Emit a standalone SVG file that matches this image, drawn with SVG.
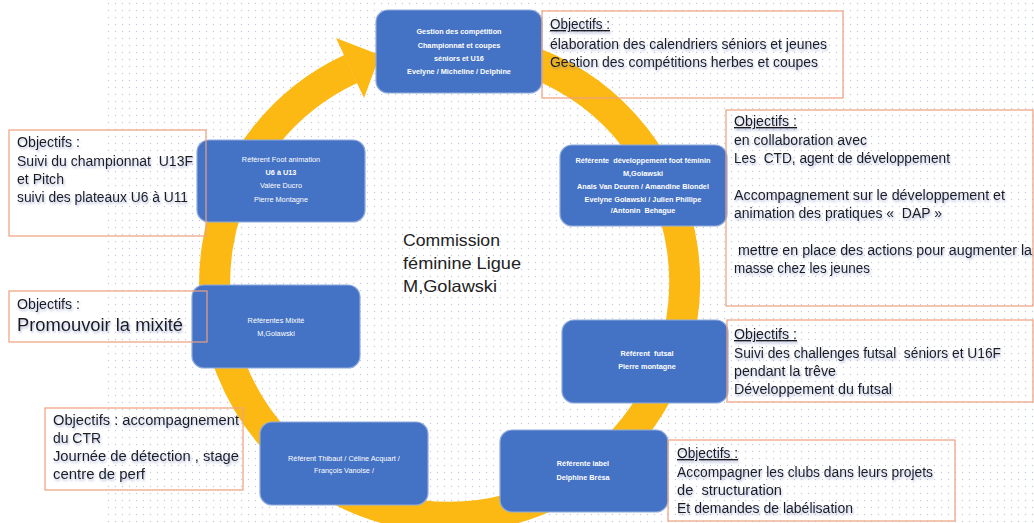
<svg xmlns="http://www.w3.org/2000/svg" width="1034" height="523" viewBox="0 0 1034 523">
<style>
.bx{fill:#4472C4;stroke:#8FAADC;stroke-width:1.2}
.bt{font-family:"Liberation Sans",Arial,sans-serif;font-size:7.3px;fill:#ffffff;text-anchor:middle}
.bb{font-weight:bold}
.ob{fill:none;stroke:#EDA17F;stroke-width:1.2}
.ot{font-family:"Liberation Sans",Arial,sans-serif;font-size:14px;fill:#1a1a1a;white-space:pre;filter:url(#sh)}
.u{text-decoration:underline}
.ct{font-family:"Liberation Sans",Arial,sans-serif;font-size:16.5px;fill:#222222}
.ring{fill:none;stroke:#FDB913;stroke-width:31}
</style>
<defs>
<pattern id="dots" width="7" height="7" patternUnits="userSpaceOnUse">
<circle cx="3.5" cy="3.5" r="0.7" fill="#c3cad6"/>
</pattern>
<filter id="sh" x="-5%" y="-30%" width="110%" height="170%">
<feDropShadow dx="1" dy="2" stdDeviation="1.3" flood-color="#5a6fb0" flood-opacity="0.45"/>
</filter>
</defs>
<rect width="1034" height="523" fill="#ffffff"/>
<rect x="105" y="0" width="929" height="523" fill="url(#dots)"/>

<g id="connectors">
<path class="ring" d="M 429.5 48 A 235 235 0 1 1 350.7 69"/>
<polygon points="336,38 364,98 380,55" fill="#FDB913"/>
</g>

<g id="n-center">
<text class="ct" x="403" y="246" textLength="97" lengthAdjust="spacingAndGlyphs">Commission</text>
<text class="ct" x="403" y="269" textLength="118" lengthAdjust="spacingAndGlyphs">féminine Ligue</text>
<text class="ct" x="403" y="292" textLength="94" lengthAdjust="spacingAndGlyphs">M,Golawski</text>
</g>

<g id="n-competition">
<rect class="bx" x="376" y="10" width="166" height="83" rx="12"/>
<text class="bt bb" x="459" y="34">Gestion des compétition</text>
<text class="bt bb" x="459" y="48">Championnat et coupes</text>
<text class="bt bb" x="459" y="61">séniors et U16</text>
<text class="bt bb" x="459" y="74">Evelyne / Micheline / Delphine</text>
</g>

<g id="n-animation">
<rect class="bx" x="197" y="140" width="168" height="82" rx="12"/>
<text class="bt" x="281" y="162">Référent Foot animation</text>
<text class="bt bb" x="281" y="175">U6 à U13</text>
<text class="bt" x="281" y="188">Valère Ducro</text>
<text class="bt" x="281" y="202">Pierre Montagne</text>
</g>

<g id="n-developpement">
<rect class="bx" x="560" y="145" width="167" height="81" rx="12"/>
<text class="bt bb" x="643" y="163" style="white-space:pre">Référente  développement foot féminin</text>
<text class="bt bb" x="643" y="176">M,Golawski</text>
<text class="bt bb" x="643" y="189">Anais Van Deuren / Amandine Blondel</text>
<text class="bt bb" x="643" y="202">Evelyne Golawski / Julien Phillipe</text>
<text class="bt bb" x="643" y="213" style="white-space:pre">/Antonin  Behague</text>
</g>

<g id="n-mixite">
<rect class="bx" x="192" y="285" width="168" height="83" rx="12"/>
<text class="bt" x="276" y="323">Référentes Mixité</text>
<text class="bt" x="276" y="336">M,Golawski</text>
</g>

<g id="n-futsal">
<rect class="bx" x="562" y="320" width="166" height="83" rx="12"/>
<text class="bt bb" x="647" y="356" style="white-space:pre">Référent  futsal</text>
<text class="bt bb" x="647" y="369">Pierre montagne</text>
</g>

<g id="n-thibaut">
<rect class="bx" x="260" y="422" width="168" height="83" rx="12"/>
<text class="bt" x="344" y="461">Référent Thibaut / Céline Acquart /</text>
<text class="bt" x="344" y="473">François Vanoise /</text>
</g>

<g id="n-label">
<rect class="bx" x="500" y="430" width="168" height="82" rx="12"/>
<text class="bt bb" x="583" y="466">Référente label</text>
<text class="bt bb" x="583" y="480">Delphine Brésa</text>
</g>

<g id="o-competition">
<rect class="ob" x="542" y="11" width="301" height="87"/>
<text class="ot u" x="550" y="29" textLength="60" lengthAdjust="spacingAndGlyphs">Objectifs :</text>
<text class="ot" x="550" y="49" textLength="277" lengthAdjust="spacingAndGlyphs">élaboration des calendriers séniors et jeunes</text>
<text class="ot" x="550" y="67" textLength="268" lengthAdjust="spacingAndGlyphs">Gestion des compétitions herbes et coupes</text>
</g>

<g id="o-developpement">
<rect class="ob" x="726" y="110" width="307" height="196"/>
<text class="ot u" x="734" y="126" textLength="63" lengthAdjust="spacingAndGlyphs">Objectifs :</text>
<text class="ot" x="734" y="145" textLength="133" lengthAdjust="spacingAndGlyphs">en collaboration avec</text>
<text class="ot" x="734" y="163" textLength="216" lengthAdjust="spacingAndGlyphs">Les  CTD, agent de développement</text>
<text class="ot" x="734" y="200" textLength="271" lengthAdjust="spacingAndGlyphs">Accompagnement sur le développement et</text>
<text class="ot" x="734" y="218" textLength="208" lengthAdjust="spacingAndGlyphs">animation des pratiques «  DAP »</text>
<text class="ot" x="734" y="255" textLength="298" lengthAdjust="spacingAndGlyphs"> mettre en place des actions pour augmenter la</text>
<text class="ot" x="734" y="273" textLength="136" lengthAdjust="spacingAndGlyphs">masse chez les jeunes</text>
</g>

<g id="o-animation">
<rect class="ob" x="9" y="130" width="197" height="106"/>
<text class="ot" x="17" y="147" textLength="63" lengthAdjust="spacingAndGlyphs">Objectifs :</text>
<text class="ot" x="17" y="166" textLength="176" lengthAdjust="spacingAndGlyphs">Suivi du championnat  U13F</text>
<text class="ot" x="17" y="184" textLength="47" lengthAdjust="spacingAndGlyphs">et Pitch</text>
<text class="ot" x="17" y="202" textLength="171" lengthAdjust="spacingAndGlyphs">suivi des plateaux U6 à U11</text>
</g>

<g id="o-mixite">
<rect class="ob" x="9" y="291" width="198" height="51"/>
<text class="ot" x="17" y="309" textLength="63" lengthAdjust="spacingAndGlyphs">Objectifs :</text>
<text class="ot" x="17" y="331" style="font-size:18px" textLength="166" lengthAdjust="spacingAndGlyphs">Promouvoir la mixité</text>
</g>

<g id="o-thibaut">
<rect class="ob" x="45" y="408" width="198" height="82"/>
<text class="ot" x="53" y="425" textLength="186" lengthAdjust="spacingAndGlyphs">Objectifs : accompagnement</text>
<text class="ot" x="53" y="443" textLength="48" lengthAdjust="spacingAndGlyphs">du CTR</text>
<text class="ot" x="53" y="461" textLength="186" lengthAdjust="spacingAndGlyphs">Journée de détection , stage</text>
<text class="ot" x="53" y="479" textLength="92" lengthAdjust="spacingAndGlyphs">centre de perf</text>
</g>

<g id="o-futsal">
<rect class="ob" x="727" y="320" width="306" height="82"/>
<text class="ot u" x="734" y="339" textLength="63" lengthAdjust="spacingAndGlyphs">Objectifs :</text>
<text class="ot" x="734" y="358" textLength="267" lengthAdjust="spacingAndGlyphs">Suivi des challenges futsal  séniors et U16F</text>
<text class="ot" x="734" y="376" textLength="102" lengthAdjust="spacingAndGlyphs">pendant la trêve</text>
<text class="ot" x="734" y="394" textLength="158" lengthAdjust="spacingAndGlyphs">Développement du futsal</text>
</g>

<g id="o-label">
<rect class="ob" x="668" y="440" width="287" height="81"/>
<text class="ot u" x="677" y="458" textLength="61" lengthAdjust="spacingAndGlyphs">Objectifs :</text>
<text class="ot" x="677" y="477" textLength="256" lengthAdjust="spacingAndGlyphs">Accompagner les clubs dans leurs projets</text>
<text class="ot" x="677" y="495" textLength="105" lengthAdjust="spacingAndGlyphs">de  structuration</text>
<text class="ot" x="677" y="513" textLength="176" lengthAdjust="spacingAndGlyphs">Et demandes de labélisation</text>
</g>
</svg>
